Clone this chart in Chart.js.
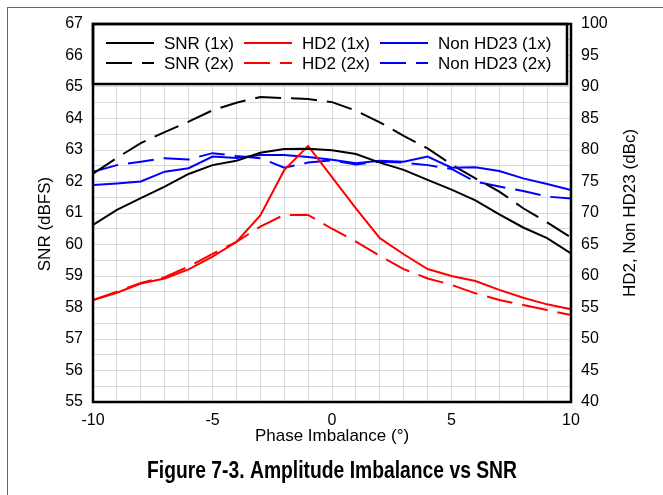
<!DOCTYPE html>
<html lang="en">
<head>
<meta charset="UTF-8">
<title>Figure 7-3</title>
<script src="https://cdn.jsdelivr.net/npm/chart.js"></script>
<style>
	html, body { margin: 0; padding: 0; background: #fff; }
	#wrap { width: 663px; height: 495px; }
</style>
</head>
<body>
<div id="wrap"><canvas id="chart" width="663" height="495"></canvas></div>
<script>
	// phase imbalance (deg)
	var phase = [-10, -9, -8, -7, -6, -5, -4, -3, -2, -1, 0, 1, 2, 3, 4, 5, 6, 7, 8, 9, 10];

	// SNR, left axis (dBFS)
	var snr1x = [60.62, 61.1, 61.47, 61.84, 62.24, 62.52, 62.66, 62.91, 63.03, 63.04, 62.99, 62.87, 62.6, 62.37, 62.05, 61.74, 61.4, 60.96, 60.54, 60.2, 59.72];
	var snr2x = [62.25, 62.75, 63.22, 63.57, 63.9, 64.26, 64.5, 64.68, 64.65, 64.62, 64.52, 64.25, 63.88, 63.45, 63.05, 62.54, 62.1, 61.68, 61.15, 60.7, 60.22];

	// HD2 and non HD23, right axis (dBc)
	var hd2_1x = [56.2, 57.35, 58.8, 59.6, 61.05, 63.06, 65.4, 69.6, 76.8, 80.65, 75.7, 70.75, 66.0, 63.45, 61.1, 60.0, 59.2, 57.8, 56.55, 55.5, 54.7];
	var hd2_2x = [56.2, 57.5, 58.9, 59.8, 61.5, 63.5, 65.4, 67.85, 69.7, 69.7, 67.5, 65.45, 63.2, 61.1, 59.6, 58.6, 57.25, 56.2, 55.4, 54.6, 53.8];
	var nonhd_1x = [74.44, 74.7, 75.0, 76.56, 77.1, 78.95, 78.75, 79.2, 79.2, 78.9, 78.45, 77.9, 78.3, 78.15, 78.95, 77.2, 77.25, 76.67, 75.5, 74.6, 73.65];
	var nonhd_2x = [76.56, 77.6, 78.15, 78.7, 78.5, 79.5, 79.05, 78.7, 77.2, 78.0, 78.35, 77.7, 78.15, 78.0, 77.6, 77.0, 74.97, 74.2, 73.5, 72.6, 72.3];

	var xTickLabels = [-10, -5, 0, 5, 10];
	var leftTickLabels = [55, 56, 57, 58, 59, 60, 61, 62, 63, 64, 65, 66, 67];
	var rightTickLabels = [40, 45, 50, 55, 60, 65, 70, 75, 80, 85, 90, 95, 100];

	var FONT = "'Liberation Sans', Arial, sans-serif";
	var DASH = [26, 10];

	function pts(ys) {
		return phase.map(function (x, i) { return { x: x, y: ys[i] }; });
	}

	function ds(label, ys, color, dashed, axis) {
		return {
			label: label,
			data: pts(ys),
			borderColor: color,
			backgroundColor: color,
			borderWidth: 2,
			borderDash: dashed ? DASH : [],
			pointRadius: 0,
			tension: 0,
			yAxisID: axis
		};
	}

	function vText(ctx, text, x, y) {
		ctx.save();
		ctx.translate(x, y);
		ctx.rotate(-Math.PI / 2);
		ctx.textAlign = 'center';
		ctx.textBaseline = 'middle';
		ctx.fillStyle = '#000';
		ctx.font = '17px ' + FONT;
		ctx.fillText(text, 0, 0);
		ctx.restore();
	}

	// frame, legend box, axis titles and the figure caption
	var decor = {
		id: 'decor',
		afterDraw: function (chart) {
			var ctx = chart.ctx;
			var a = chart.chartArea;
			ctx.save();

			// outer figure frame
			ctx.strokeStyle = '#666';
			ctx.lineWidth = 1;
			ctx.strokeRect(7.5, 7.5, 700, 600);

			// legend
			var lx = a.left, ly = a.top, lw = 567 - a.left, lh = 60;
			ctx.fillStyle = '#fff';
			ctx.fillRect(lx, ly, lw, lh);
			ctx.strokeStyle = '#000';
			ctx.lineWidth = 2.5;
			ctx.strokeRect(lx, ly, lw, lh);
			var cols = [106, 244, 380];
			var rows = [43, 63];
			ctx.font = '17px ' + FONT;
			ctx.textBaseline = 'middle';
			ctx.textAlign = 'left';
			chart.data.datasets.forEach(function (d, i) {
				var cx = cols[i % 3], cy = rows[Math.floor(i / 3)];
				ctx.strokeStyle = d.borderColor;
				ctx.lineWidth = 2;
				ctx.setLineDash(d.borderDash);
				ctx.beginPath();
				ctx.moveTo(cx, cy);
				ctx.lineTo(cx + 48, cy);
				ctx.stroke();
				ctx.setLineDash([]);
				ctx.fillStyle = '#000';
				ctx.fillText(d.label, cx + 58, cy + 1);
			});

			// plot frame
			ctx.strokeStyle = '#000';
			ctx.lineWidth = 2.5;
			ctx.strokeRect(a.left, a.top, a.right - a.left, a.bottom - a.top);

			// axis titles, both reading bottom to top
			vText(ctx, 'SNR (dBFS)', 45, 224);
			vText(ctx, 'HD2, Non HD23 (dBc)', 630, (a.top + a.bottom) / 2);

			// caption
			ctx.font = "bold 23px 'Liberation Sans Narrow', 'Liberation Sans', Arial, sans-serif";
			ctx.textAlign = 'center';
			ctx.textBaseline = 'middle';
			ctx.fillStyle = '#000';
			var cap = 'Figure 7-3. Amplitude Imbalance vs SNR';
			var w = ctx.measureText(cap).width;
			ctx.translate((a.left + a.right) / 2, 472);
			if (w > 370) ctx.scale(370 / w, 1);
			ctx.fillText(cap, 0, 0);
			ctx.restore();
		}
	};

	var gridColor = '#d9d9d9';

	new Chart(document.getElementById('chart'), {
		type: 'line',
		data: {
			datasets: [
				ds('SNR (1x)', snr1x, '#000000', false, 'y'),
				ds('HD2 (1x)', hd2_1x, '#ff0000', false, 'y1'),
				ds('Non HD23 (1x)', nonhd_1x, '#0000ff', false, 'y1'),
				ds('SNR (2x)', snr2x, '#000000', true, 'y'),
				ds('HD2 (2x)', hd2_2x, '#ff0000', true, 'y1'),
				ds('Non HD23 (2x)', nonhd_2x, '#0000ff', true, 'y1')
			]
		},
		options: {
			responsive: false,
			animation: false,
			layout: { padding: { top: 24, bottom: 45, left: 0, right: 0 } },
			plugins: {
				legend: { display: false },
				tooltip: { enabled: false }
			},
			scales: {
				x: {
					type: 'linear',
					min: -10,
					max: 10,
					grid: { color: gridColor, drawTicks: false },
					border: { display: false },
					ticks: {
						stepSize: 1,
						autoSkip: false,
						maxRotation: 0,
						padding: 9,
						color: '#000',
						font: { size: 16, family: FONT },
						callback: function (v) { return xTickLabels.indexOf(v) >= 0 ? String(v) : ''; }
					},
					title: {
						display: true,
						text: 'Phase Imbalance (°)',
						color: '#000',
						font: { size: 17, family: FONT },
						padding: { top: 0, bottom: 3 }
					},
					afterFit: function (s) { s.height = 48; }
				},
				y: {
					position: 'left',
					min: 55,
					max: 67,
					grid: { color: gridColor, drawTicks: false },
					border: { display: false },
					ticks: {
						stepSize: 0.5,
						autoSkip: false,
						padding: 10,
						color: '#000',
						font: { size: 16, family: FONT },
						callback: function (v) { return leftTickLabels.indexOf(v) >= 0 ? String(v) : ''; }
					},
					afterFit: function (s) { s.width = 93; }
				},
				y1: {
					position: 'right',
					min: 40,
					max: 100,
					grid: { display: false, drawTicks: false },
					border: { display: false },
					ticks: {
						stepSize: 5,
						autoSkip: false,
						padding: 10,
						color: '#000',
						font: { size: 16, family: FONT },
						callback: function (v) { return rightTickLabels.indexOf(v) >= 0 ? String(v) : ''; }
					},
					afterFit: function (s) { s.width = 92; }
				}
			}
		},
		plugins: [decor]
	});
</script>
</body>
</html>
